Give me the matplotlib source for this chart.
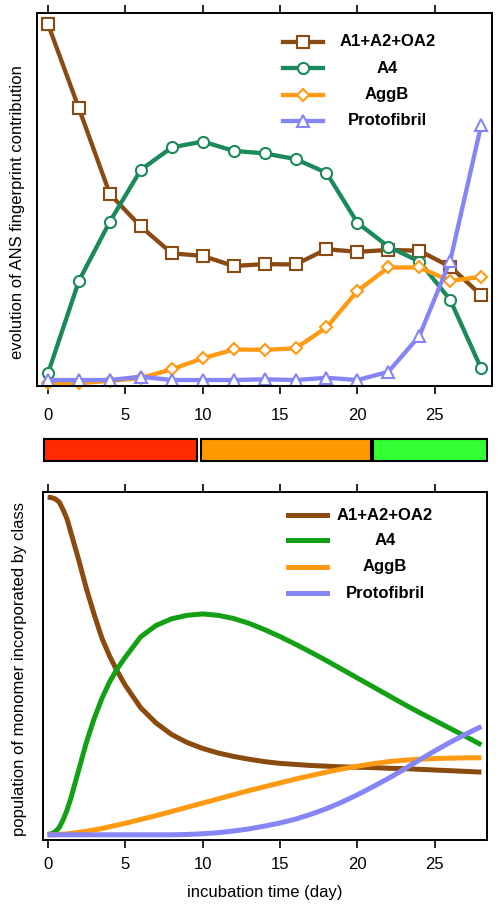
import numpy as np
import matplotlib
matplotlib.use("Agg")
import matplotlib.pyplot as plt
from matplotlib.patches import Rectangle

plt.rcParams["font.family"] = ["Liberation Sans", "DejaVu Sans"]

# --- data -------------------------------------------------------------------
series_names = ["A1+A2+OA2", "A4", "AggB", "Protofibril"]

# top panel: ANS fingerprint contribution (arbitrary units)
days_meas = [0, 2, 4, 6, 8, 10, 12, 14, 16, 18, 20, 22, 24, 26, 28]
ans_a1a2oa2 = [97.1, 74.5, 51.5, 42.8, 35.6, 34.9, 32.2, 32.7, 32.6, 36.7, 36.0, 36.5, 36.3, 32.0, 24.4]
ans_a4 = [3.4, 28.2, 44.1, 58.0, 64.0, 65.6, 63.1, 62.4, 60.9, 57.2, 43.8, 37.4, 33.4, 23.1, 4.7]
ans_aggb = [0.7, 0.7, 1.4, 2.1, 4.5, 7.4, 9.8, 9.7, 10.1, 15.7, 25.5, 31.8, 31.8, 28.2, 29.3]
ans_proto = [1.6, 1.6, 1.6, 2.5, 1.6, 1.6, 1.6, 1.8, 1.6, 2.2, 1.6, 3.8, 13.4, 33.6, 70.0]

# bottom panel: modelled monomer population per class (arbitrary units)
days_model = [0, 0.25, 0.5, 0.75, 1, 1.25, 1.5, 2, 2.5, 3, 3.5, 4, 4.5, 5,
              6, 7, 8, 9, 10, 11, 12, 13, 14, 15, 16, 17, 18, 19, 20, 21, 22,
              23, 24, 25, 26, 27, 28]
pop_a1a2oa2 = [98.4, 98.3, 97.9, 97.0, 94.8, 92.2, 88.3, 80.5, 72.2, 64.8, 58.0, 52.8,
               48.4, 44.5,
               38.0, 33.6, 30.3, 28.0, 26.3, 25.0, 24.0, 23.2, 22.5, 22.0, 21.7, 21.4,
               21.2, 21.0, 20.9, 20.8, 20.6, 20.5, 20.3, 20.1, 19.9, 19.7, 19.5]
pop_a4 = [1.6, 1.8, 2.4, 3.6, 5.8, 8.6, 12.0, 20.0, 28.0, 34.8, 40.6, 45.4, 49.2, 52.4,
          58.3, 61.6, 63.5, 64.5, 64.9, 64.5, 63.6, 62.2, 60.4, 58.4, 56.2, 53.9,
          51.5, 49.0, 46.5, 44.0, 41.5, 39.0, 36.6, 34.3, 32.0, 29.7, 27.3]
pop_aggb = [1.5, 1.5, 1.55, 1.6, 1.7, 1.75, 1.9, 2.2, 2.5, 2.9, 3.3, 3.8, 4.3, 4.8,
            5.9, 7.0, 8.2, 9.4, 10.6, 11.8, 13.0, 14.2, 15.3, 16.4, 17.5, 18.5,
            19.5, 20.4, 21.2, 21.9, 22.5, 22.9, 23.2, 23.4, 23.5, 23.6, 23.6]
pop_proto = [1.5, 1.5, 1.5, 1.5, 1.5, 1.5, 1.5, 1.5, 1.5, 1.5, 1.5, 1.5, 1.5, 1.5,
             1.5, 1.5, 1.5, 1.6, 1.8, 2.1, 2.6, 3.2, 4.0, 4.9, 6.0, 7.4,
             9.0, 10.9, 13.0, 15.3, 17.7, 20.3, 23.0, 25.6, 28.1, 30.4, 32.6]

# aggregation stages shown in the colour strip (start day, end day)
stage_start = [-0.25, 9.9, 21.0]
stage_end = [9.65, 20.85, 28.35]
stage_colors = ["#ff2a00", "#ff9900", "#33ff33"]

# --- styles -----------------------------------------------------------------
top_colors = ["#8b4a12", "#1b8a5a", "#ff9a12", "#8585f5"]
top_markers = ["s", "o", "D", "^"]
top_msize = [8, 8, 6, 8]
bot_colors = ["#8b4a0e", "#14a014", "#ff9a12", "#8585f5"]

fig = plt.figure(figsize=(5.02, 9.11), dpi=100)
ax_top = fig.add_axes([0.0743, 0.5763, 0.9052, 0.4091])
ax_bar = fig.add_axes([0.0850, 0.4943, 0.8857, 0.0235])
ax_bot = fig.add_axes([0.0850, 0.0779, 0.8857, 0.3824])

# Top panel ------------------------------------------------------------------
top_data = [ans_a1a2oa2, ans_a4, ans_aggb, ans_proto]
for vals, c, m, ms in zip(top_data, top_colors, top_markers, top_msize):
    ax_top.plot(days_meas, vals, color=c, lw=3.1, marker=m, ms=ms,
                mfc="white", mec=c, mew=1.5, clip_on=False)
ax_top.set_xlim(-0.69, 28.68)
ax_top.set_ylim(0, 100)
ax_top.set_xticks([0, 5, 10, 15, 20, 25])
ax_top.set_yticks([])
ax_top.tick_params(axis="x", which="both", direction="out", top=True,
                   labelsize=12, width=1.2)
ax_top.tick_params(axis="x", which="major", length=6, pad=9.5)
for sp in ax_top.spines.values():
    sp.set_linewidth(1.4)
ax_top.set_ylabel("evolution of ANS fingerprint contribution", fontsize=12)
ax_top.yaxis.set_label_coords(-0.026, 0.467)

# legend drawn by hand so that the labels can be centred
leg_y = [0.924, 0.853, 0.781, 0.712]
for name, c, m, ms, y in zip(series_names, top_colors, top_markers, top_msize, leg_y):
    ax_top.plot([0.541, 0.629], [y, y], transform=ax_top.transAxes, color=c, lw=3.1)
    ax_top.plot([0.585], [y], transform=ax_top.transAxes, marker=m, ms=ms,
                mfc="white", mec=c, mew=1.5, color=c)
    ax_top.text(0.770, y, name, transform=ax_top.transAxes, ha="center",
                va="center", fontsize=12, fontweight="bold")

# Colour strip ---------------------------------------------------------------
ax_bar.set_xlim(-0.32, 28.38)
ax_bar.set_ylim(0, 1)
ax_bar.axis("off")
for s, e, c in zip(stage_start, stage_end, stage_colors):
    ax_bar.add_patch(Rectangle((s, 0), e - s, 1, facecolor=c, edgecolor="black",
                               lw=1.5, clip_on=False))

# Bottom panel ---------------------------------------------------------------
bot_data = [pop_a1a2oa2, pop_a4, pop_aggb, pop_proto]
for vals, c in zip(bot_data, bot_colors):
    ax_bot.plot(days_model, vals, color=c, lw=3.6, solid_capstyle="butt",
                solid_joinstyle="round")
ax_bot.set_xlim(-0.32, 28.38)
ax_bot.set_ylim(0, 100)
ax_bot.set_xticks([0, 5, 10, 15, 20, 25])
ax_bot.set_yticks([])
ax_bot.tick_params(axis="x", which="both", direction="out", top=True,
                   labelsize=12, width=1.2, length=6, pad=6.5)
for sp in ax_bot.spines.values():
    sp.set_linewidth(1.4)
ax_bot.set_ylabel("population of monomer incorporated by class", fontsize=12)
ax_bot.yaxis.set_label_coords(-0.036, 0.491)
ax_bot.set_xlabel("incubation time (day)", fontsize=12)
ax_bot.xaxis.set_label_coords(0.5, -0.128)

leg_y2 = [0.933, 0.861, 0.785, 0.708]
for name, c, y in zip(series_names, bot_colors, leg_y2):
    ax_bot.plot([0.552, 0.639], [y, y], transform=ax_bot.transAxes, color=c, lw=3.6)
    ax_bot.text(0.770, y, name, transform=ax_bot.transAxes, ha="center",
                va="center", fontsize=12, fontweight="bold")

fig.savefig("out.png", dpi=100)
